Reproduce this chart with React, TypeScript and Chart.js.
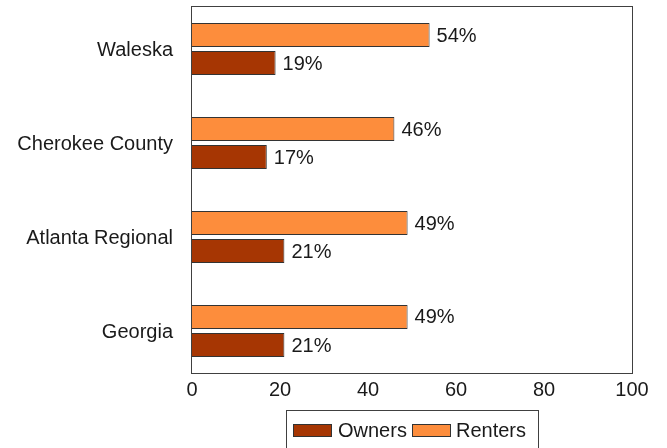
import React, { useEffect, useRef } from "react";
import { Chart, registerables } from "chart.js";

Chart.register(...registerables);

const categories = ["Waleska", "Cherokee County", "Atlanta Regional", "Georgia"];
const renters = [54, 46, 49, 49];
const owners = [19, 17, 21, 21];
const xTicks = [0, 20, 40, 60, 80, 100];

const ORANGE = "#fd8d3c";
const DARK = "#a63603";
const FONT = "'Liberation Sans', Arial, sans-serif";
const TEXT = "#1a1a1a";

export default function App() {
  const ref = useRef<HTMLCanvasElement | null>(null);

  useEffect(() => {
    document.body.style.margin = "0";
    const canvas = ref.current;
    if (!canvas) return;

    const valueLabels = {
      id: "valueLabels",
      afterDatasetsDraw(chart: any) {
        const ctx = chart.ctx;
        ctx.save();
        ctx.font = `20px ${FONT}`;
        ctx.fillStyle = TEXT;
        ctx.textBaseline = "middle";
        ctx.textAlign = "left";
        chart.data.datasets.forEach((ds: any, di: number) => {
          const meta = chart.getDatasetMeta(di);
          meta.data.forEach((el: any, i: number) => {
            const v = ds.data[i].x;
            ctx.fillText(`${v}%`, el.x + 7, el.y + 1);
          });
        });
        const a = chart.chartArea;
        ctx.strokeStyle = "#404040";
        ctx.lineWidth = 1;
        ctx.strokeRect(a.left - 0.5, a.top - 0.5, a.right - a.left + 1, a.bottom - a.top + 1);
        ctx.restore();
      },
    };

    const customLegend = {
      id: "customLegend",
      afterDraw(chart: any) {
        const ctx = chart.ctx;
        ctx.save();
        ctx.strokeStyle = "#404040";
        ctx.lineWidth = 1;
        ctx.strokeRect(286.5, 410.5, 252, 60);
        const items = [
          { label: "Owners", color: DARK, bx: 293, tx: 338 },
          { label: "Renters", color: ORANGE, bx: 412, tx: 456 },
        ];
        ctx.font = `20px ${FONT}`;
        ctx.textBaseline = "middle";
        ctx.textAlign = "left";
        items.forEach((it) => {
          ctx.fillStyle = it.color;
          ctx.fillRect(it.bx, 424, 39, 13);
          ctx.strokeStyle = "#333";
          ctx.strokeRect(it.bx + 0.5, 424.5, 38, 12);
          ctx.fillStyle = TEXT;
          ctx.fillText(it.label, it.tx, 431);
        });
        ctx.restore();
      },
    };

    const chart = new Chart(canvas, {
      type: "bar",
      data: {
        datasets: [
          {
            label: "Renters",
            data: renters.map((v, i) => ({ x: v, y: i })),
            backgroundColor: ORANGE,
            borderColor: "#333",
            borderWidth: 1,
            categoryPercentage: 0.596,
            barPercentage: 0.857,
          },
          {
            label: "Owners",
            data: owners.map((v, i) => ({ x: v, y: i })),
            backgroundColor: DARK,
            borderColor: "#333",
            borderWidth: 1,
            categoryPercentage: 0.596,
            barPercentage: 0.857,
          },
        ],
      },
      options: {
        indexAxis: "y",
        animation: false,
        responsive: false,
        layout: { padding: { top: 7, right: 35, left: 0, bottom: 37 } },
        plugins: {
          legend: { display: false },
          tooltip: { enabled: false },
        },
        scales: {
          x: {
            type: "linear",
            min: 0,
            max: 100,
            offset: false,
            grid: { display: false, drawTicks: false },
            border: { display: false },
            afterBuildTicks: (s: any) => {
              s.ticks = xTicks.map((v) => ({ value: v }));
            },
            afterFit: (s: any) => {
              s.height = 38;
              s.paddingLeft = 0;
              s.paddingRight = 0;
            },
            ticks: {
              padding: 5,
              color: TEXT,
              font: { family: FONT, size: 20 },
            },
          },
          y: {
            type: "linear",
            reverse: true,
            offset: false,
            min: -0.447,
            max: 3.447,
            grid: { display: false, drawTicks: false, offset: false },
            border: { display: false },
            afterBuildTicks: (s: any) => {
              s.ticks = categories.map((_, i) => ({ value: i }));
            },
            afterFit: (s: any) => {
              s.width = 192;
              s.paddingTop = 0;
              s.paddingBottom = 0;
            },
            ticks: {
              padding: 19,
              labelOffset: 1,
              color: TEXT,
              font: { family: FONT, size: 20 },
              callback: (v: any) => categories[Math.round(Number(v))] ?? "",
            },
          },
        },
      },
      plugins: [valueLabels, customLegend],
    } as any);

    return () => chart.destroy();
  }, []);

  return (
    <div style={{ position: "absolute", left: 0, top: 0, width: 667, height: 448 }}>
      <canvas ref={ref} width={667} height={448} />
    </div>
  );
}
